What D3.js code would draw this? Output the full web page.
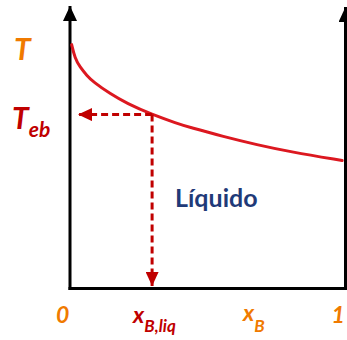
<!DOCTYPE html>
<html>
<head>
<meta charset="utf-8">
<script src="https://cdn.jsdelivr.net/npm/d3@7"></script>
<style>
  html, body { margin: 0; padding: 0; background: #fff; }
  svg { display: block; }
  text { font-family: Lato, "Liberation Sans", sans-serif; font-weight: bold; }
</style>
</head>
<body>
<script>
// Liquid boiling-point curve: T versus mole fraction x_B
const xB = [0.006, 0.018, 0.036, 0.061, 0.085, 0.145, 0.206, 0.298, 0.388, 0.436, 0.556, 0.679, 0.80, 0.988];
const temperature = [87.1, 82.2, 79.1, 76.1, 73.7, 69.6, 66.1, 62.1, 59.0, 57.5, 54.3, 51.3, 48.8, 45.7];

// Marked composition and its boiling temperature
const xLiq = 0.298;
const tEb = 62.1;

// Axis tick labels
const xTickValues = [0, 1];
const xTickLabels = ["0", "1"];

const width = 347, height = 340;
const svg = d3.select("body").append("svg")
  .attr("width", width).attr("height", height);

const x = d3.scaleLinear().domain([0, 1]).range([70, 345.5]);
const y = d3.scaleLinear().domain([0, 100]).range([288.5, 8.5]);

const orange = "#F07A00", red = "#C00000", curveRed = "#DC1820", navy = "#1F3A78";

const defs = svg.append("defs");
function marker(id, color, w, h) {
  defs.append("marker")
    .attr("id", id)
    .attr("viewBox", `0 0 ${w} ${h}`)
    .attr("refX", w).attr("refY", h / 2)
    .attr("markerWidth", w).attr("markerHeight", h)
    .attr("markerUnits", "userSpaceOnUse")
    .attr("orient", "auto")
    .append("path")
    .attr("d", `M0,0 L${w},${h / 2} L0,${h} Z`)
    .attr("fill", color);
}
marker("axisHead", "#000", 15, 14);
marker("dashHead", red, 14, 13);

// Axes: vertical arrows at x = 0 and x = 1, baseline at T = 0
const axes = svg.append("g").attr("stroke", "#000").attr("stroke-width", 3).attr("fill", "none");
axes.append("line")
  .attr("x1", x(0)).attr("y1", y(0) + 1.5).attr("x2", x(0)).attr("y2", 6)
  .attr("marker-end", "url(#axisHead)");
axes.append("line")
  .attr("x1", x(1)).attr("y1", y(0) + 1.5).attr("x2", x(1)).attr("y2", 7)
  .attr("marker-end", "url(#axisHead)");
axes.append("line")
  .attr("x1", x(0) - 1.5).attr("y1", y(0)).attr("x2", x(1) + 1.5).attr("y2", y(0));

// Boiling curve
const line = d3.line().x(d => x(d[0])).y(d => y(d[1])).curve(d3.curveBasis);
svg.append("path")
  .datum(xB.map((v, i) => [v, temperature[i]]))
  .attr("d", line)
  .attr("fill", "none")
  .attr("stroke", curveRed)
  .attr("stroke-width", 3)
  .attr("stroke-linecap", "round");

// Dashed read-off lines to both axes
const dash = svg.append("g").attr("stroke", red).attr("stroke-width", 3)
  .attr("stroke-dasharray", "7,4").attr("fill", "none");
dash.append("line")
  .attr("x1", x(xLiq)).attr("y1", y(tEb)).attr("x2", x(0) + 8).attr("y2", y(tEb))
  .attr("marker-end", "url(#dashHead)");
dash.append("line")
  .attr("x1", x(xLiq)).attr("y1", y(tEb)).attr("x2", x(xLiq)).attr("y2", y(0) - 2.5)
  .attr("marker-end", "url(#dashHead)");

// Axis titles and tick labels
svg.append("text")
  .attr("x", 14).attr("y", 60)
  .attr("font-size", 30).attr("font-style", "italic").attr("fill", orange)
  .text("T");

const teb = svg.append("text")
  .attr("x", 12).attr("y", 129)
  .attr("font-size", 30).attr("font-style", "italic").attr("fill", red);
teb.append("tspan").text("T");
teb.append("tspan").attr("font-size", 21).attr("dy", 8).text("eb");

svg.selectAll("text.tick")
  .data(xTickValues)
  .join("text")
  .attr("class", "tick")
  .attr("x", d => x(d) - (d === 0 ? 14 : 14))
  .attr("y", 323)
  .attr("font-size", 23).attr("font-style", "italic").attr("fill", orange)
  .text((d, i) => xTickLabels[i]);

const xl = svg.append("text")
  .attr("x", x(xLiq) - 19).attr("y", 323)
  .attr("font-size", 23).attr("font-style", "italic").attr("fill", red);
xl.append("tspan").text("x");
xl.append("tspan").attr("font-size", 17).attr("dy", 9).text("B,liq");

const xb = svg.append("text")
  .attr("x", 243).attr("y", 321)
  .attr("font-size", 23).attr("font-style", "italic").attr("fill", orange);
xb.append("tspan").text("x");
xb.append("tspan").attr("font-size", 17).attr("dy", 11).text("B");

svg.append("text")
  .attr("x", 175).attr("y", 207)
  .attr("font-size", 25).attr("fill", navy)
  .text("Líquido");
</script>
</body>
</html>
